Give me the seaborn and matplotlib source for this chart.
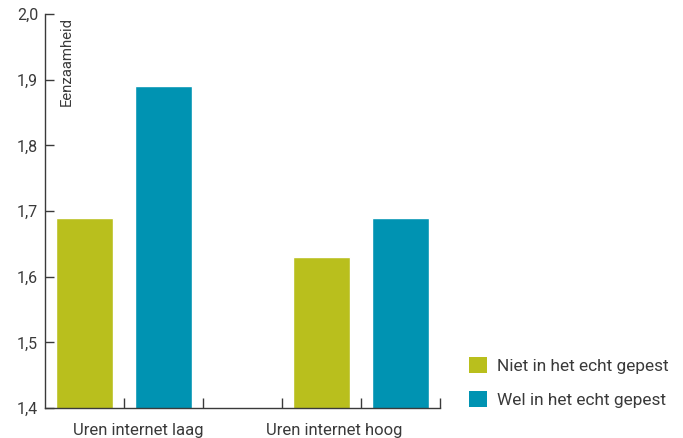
import matplotlib
matplotlib.use("Agg")
import matplotlib.pyplot as plt
import seaborn as sns
import pandas as pd
from matplotlib.patches import Patch

# Data
groups = ["Uren internet laag", "Uren internet hoog"]
series = ["Niet in het echt gepest", "Wel in het echt gepest"]
niet_gepest = [1.69, 1.63]
wel_gepest = [1.89, 1.69]
y_ticks = [1.4, 1.5, 1.6, 1.7, 1.8, 1.9, 2.0]
y_label = "Eenzaamheid"

colors = {series[0]: "#b9bf1d", series[1]: "#0093b2"}
text_color = "#3a3a3a"
axis_color = "#3a3a3a"

# Five slots: two bars per group with an empty slot between the groups
slots = ["s0", "s1", "gap", "s3", "s4"]
rows = [
    {"slot": "s0", "series": series[0], "value": niet_gepest[0]},
    {"slot": "s1", "series": series[1], "value": wel_gepest[0]},
    {"slot": "s3", "series": series[0], "value": niet_gepest[1]},
    {"slot": "s4", "series": series[1], "value": wel_gepest[1]},
]
df = pd.DataFrame(rows)

sns.set_theme(style="white")
plt.rcParams["font.family"] = ["Roboto", "DejaVu Sans"]

fig = plt.figure(figsize=(6.83, 4.38), dpi=100)
ax = fig.add_axes([45 / 683, 30 / 438, 395 / 683, 394 / 438])

sns.barplot(data=df, x="slot", y="value", hue="series", order=slots,
            hue_order=series, palette=colors, dodge=False, width=0.72,
            saturation=1, ax=ax, legend=False)

ax.set_xlim(-0.5, 4.5)
ax.set_ylim(1.4, 2.0)
ax.set_yticks(y_ticks)
ax.set_yticklabels([f"{v:.1f}".replace(".", ",") for v in y_ticks],
                   color=text_color, fontsize=11.5)
ax.set_xticks([0.5, 1.5, 2.5, 3.5, 4.5])
ax.set_xticklabels([])
ax.set_xlabel("")
ax.set_ylabel("")

for side in ["top", "right"]:
    ax.spines[side].set_visible(False)
for side in ["left", "bottom"]:
    ax.spines[side].set_color(axis_color)
    ax.spines[side].set_linewidth(1.0)

ax.tick_params(axis="y", direction="in", length=6.5, width=1, color=axis_color,
               pad=5, left=True)
ax.tick_params(axis="x", direction="in", length=7, width=1, color=axis_color,
               bottom=True)

# Group labels under the axis
label_y = -27 / 394
ax.text(0.677, label_y, groups[0], transform=ax.get_xaxis_transform(),
        ha="center", va="baseline", fontsize=12, color=text_color)
ax.text(3.158, label_y, groups[1], transform=ax.get_xaxis_transform(),
        ha="center", va="baseline", fontsize=12, color=text_color)

# Rotated axis title inside the plot area
ax.text(0.0557, 0.992, y_label, transform=ax.transAxes, rotation=90,
        ha="center", va="top", fontsize=10.7, color=text_color)

handles = [Patch(facecolor=colors[s], edgecolor="none") for s in series]
fig.legend(handles, series, loc="lower left", bbox_to_anchor=(457 / 683, 18 / 438),
           frameon=False, fontsize=12.4, handlelength=1.05, handleheight=1.05,
           labelspacing=1.0, handletextpad=0.55, labelcolor=text_color,
           borderpad=0.2)

fig.savefig("out.png", dpi=100)
